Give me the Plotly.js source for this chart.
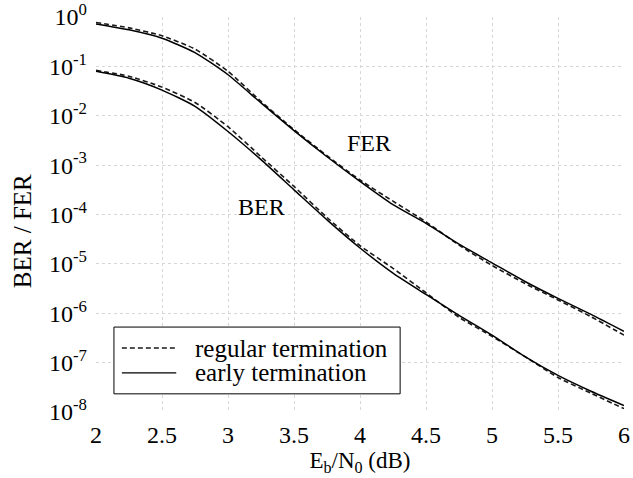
<!DOCTYPE html>
<html>
<head>
<meta charset="utf-8">
<script src="https://cdn.plot.ly/plotly-3.0.1.min.js"></script>
<style>
  html, body { margin: 0; padding: 0; background: #fff; }
  #chart { width: 633px; height: 478px; }
</style>
</head>
<body>
<div id="chart"></div>
<script>
// Eb/N0 operating points (dB)
const ebn0 = [2, 2.25, 2.5, 2.75, 3, 3.25, 3.5, 3.75, 4, 4.25, 4.5, 4.75, 5, 5.25, 5.5, 5.75, 6];

// Frame error rate
const ferRegular = [0.776, 0.603, 0.417, 0.224, 0.0794, 0.0195, 5.25e-3, 1.55e-3, 5.0e-4, 1.86e-4, 7.1e-5, 2.4e-5, 9.3e-6, 4.0e-6, 1.86e-6, 8.5e-7, 3.6e-7];
const ferEarly   = [0.724, 0.55, 0.372, 0.19, 0.0676, 0.0182, 5.0e-3, 1.48e-3, 4.68e-4, 1.58e-4, 6.6e-5, 2.5e-5, 1.05e-5, 4.4e-6, 2.0e-6, 9.5e-7, 4.3e-7];

// Bit error rate
const berRegular = [0.0832, 0.063, 0.038, 0.0186, 6.0e-3, 1.48e-3, 3.7e-4, 8.7e-5, 2.34e-5, 8.1e-6, 2.6e-6, 8.3e-7, 3.4e-7, 1.32e-7, 5.0e-8, 2.4e-8, 1.17e-8];
const berEarly   = [0.0794, 0.0575, 0.0331, 0.0155, 4.8e-3, 1.29e-3, 3.16e-4, 7.8e-5, 2.1e-5, 6.5e-6, 2.4e-6, 9.1e-7, 3.6e-7, 1.32e-7, 5.5e-8, 2.63e-8, 1.35e-8];

// Axis ticks
const xTicks = [2, 2.5, 3, 3.5, 4, 4.5, 5, 5.5, 6];
const yExponents = [0, -1, -2, -3, -4, -5, -6, -7, -8];

const seriesNames = ['regular termination', 'early termination'];
const yTitle = 'BER / FER';
const xTitle = 'E<sub>b</sub>/N<sub>0</sub> (dB)';

const serif = '"Liberation Serif", "Times New Roman", Times, serif';
const dashedLine = { color: '#1a1a1a', width: 1.6, dash: '5px,3px', shape: 'spline', smoothing: 0.6 };
const solidLine  = { color: '#000000', width: 1.5, shape: 'spline', smoothing: 0.6 };

const traces = [
  { x: ebn0, y: ferRegular, mode: 'lines', line: dashedLine, name: seriesNames[0] },
  { x: ebn0, y: ferEarly,   mode: 'lines', line: solidLine,  name: seriesNames[1] },
  { x: ebn0, y: berRegular, mode: 'lines', line: dashedLine, name: seriesNames[0] },
  { x: ebn0, y: berEarly,   mode: 'lines', line: solidLine,  name: seriesNames[1] }
];

const gridStyle = { showgrid: true, gridcolor: '#d6d6d6', gridwidth: 1, griddash: 'dot', zeroline: false, showline: false };

// Boxed key in the lower-left corner of the plot (paper coordinates)
const key = { x0: 0.034, x1: 0.576, y0: 0.046, y1: 0.215, lineX0: 0.049, lineX1: 0.152, textX: 0.184, rows: [0.162, 0.099] };
const keyLines = [dashedLine, solidLine];

const shapes = [
  { type: 'rect', xref: 'paper', yref: 'paper', x0: key.x0, x1: key.x1, y0: key.y0, y1: key.y1,
    fillcolor: '#ffffff', line: { color: '#000', width: 1 }, layer: 'above' }
].concat(key.rows.map((ry, i) => ({
  type: 'line', xref: 'paper', yref: 'paper', x0: key.lineX0, x1: key.lineX1, y0: ry, y1: ry,
  line: { color: keyLines[i].color, width: 1.3, dash: keyLines[i].dash || 'solid' }, layer: 'above'
})));

const annotations = [
  { x: 4.07, y: -2.55, xref: 'x', yref: 'y', text: 'FER', showarrow: false, font: { family: serif, size: 24, color: '#000' } },
  { x: 3.255, y: -3.85, xref: 'x', yref: 'y', text: 'BER', showarrow: false, font: { family: serif, size: 24, color: '#000' } },
  // vertical axis title, placed slightly below the plot's mid-height
  { x: -0.14, y: 0.458, xref: 'paper', yref: 'paper', xanchor: 'center', yanchor: 'middle', textangle: -90,
    text: yTitle, showarrow: false, font: { family: serif, size: 25, color: '#000' } }
].concat(key.rows.map((ry, i) => ({
  x: key.textX, y: ry, xref: 'paper', yref: 'paper', xanchor: 'left', yanchor: 'middle',
  text: seriesNames[i], showarrow: false, font: { family: serif, size: 25, color: '#000' }
})));

const layout = {
  width: 633,
  height: 478,
  margin: { l: 96, r: 9, t: 17, b: 66 },
  paper_bgcolor: '#ffffff',
  plot_bgcolor: '#ffffff',
  font: { family: serif, size: 24, color: '#000' },
  showlegend: false,
  xaxis: Object.assign({
    type: 'linear', range: [2, 6],
    tickvals: xTicks, ticktext: xTicks.map(String),
    ticks: '', ticklabelstandoff: 6,
    tickfont: { family: serif, size: 24, color: '#000' },
    title: { text: xTitle, font: { family: serif, size: 23, color: '#000' }, standoff: 2 }
  }, gridStyle),
  yaxis: Object.assign({
    type: 'log', range: [-8, 0],
    tickvals: yExponents.map(e => Math.pow(10, e)),
    ticktext: yExponents.map(e => '10<sup>' + e + '</sup>'),
    ticks: '', ticklabelstandoff: 8,
    tickfont: { family: serif, size: 24, color: '#000' }
  }, gridStyle),
  shapes: shapes,
  annotations: annotations
};

Plotly.newPlot('chart', traces, layout, { displayModeBar: false, staticPlot: true });
</script>
</body>
</html>
